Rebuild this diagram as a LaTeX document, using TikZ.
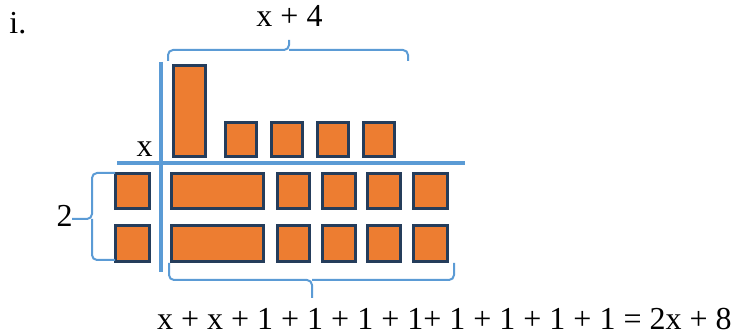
\documentclass[tikz,border=0pt]{standalone}
\usepackage{fontspec}
\setmainfont{Liberation Serif}
\definecolor{tileorange}{HTML}{ED7D31}
\definecolor{tileedge}{HTML}{253D5B}
\definecolor{axisblue}{HTML}{5B9BD5}
\newcommand\mktile[5]{\node[tile, minimum width={(#4-#2-3)*0.5pt}, minimum height={(#5-#3-3)*0.5pt}] (#1) at ({(#2+#4)/2},{(#3+#5)/2}) {};}
\begin{document}
\begin{tikzpicture}[x=0.5pt,y=-0.5pt,
  tile/.style={draw=tileedge, fill=tileorange, line width=1.5pt, inner sep=0pt, outer sep=0pt, rectangle},
  axisline/.style={draw=axisblue, line width=1.75pt},
  bracket/.style={draw=axisblue, line width=1pt, rounded corners=2.5pt},
  lbl/.style={font=\fontsize{16}{19}\selectfont, inner sep=0pt, anchor=base}]
\useasboundingbox (0,0) rectangle (734,336);
% labels
\node[lbl, anchor=base west] (roman) at (9,34) {i.};
\node[lbl] (top) at (289.5,27) {x + 4};
\node[lbl] (xl) at (144.5,157) {x};
\node[lbl] (two) at (64.5,227) {2};
\node[lbl, anchor=base east] (eq) at (732,330) {x + x + 1 + 1 + 1 + 1+ 1 + 1 + 1 + 1 = 2x + 8};
% axes
\coordinate (vt) at (161,62); \coordinate (vb) at (161,272);
\coordinate (hl) at (117,163); \coordinate (hr) at (465,163);
\draw[axisline] (vt) -- (vb);
\draw[axisline] (hl) -- (hr);
% top row
\mktile{t0}{172}{64}{207}{158}
\mktile{t1}{224}{121}{258}{158}
\mktile{t2}{270}{121}{304}{158}
\mktile{t3}{316}{121}{350}{158}
\mktile{t4}{362}{121}{396}{158}
% row 1
\mktile{a0}{114}{172}{151}{210}
\mktile{a1}{170}{172}{265}{210}
\mktile{a2}{276}{172}{311}{210}
\mktile{a3}{321}{172}{357}{210}
\mktile{a4}{366}{172}{402}{210}
\mktile{a5}{412}{172}{449}{210}
% row 2
\mktile{b0}{114}{224}{151}{263}
\mktile{b1}{170}{224}{265}{263}
\mktile{b2}{276}{224}{311}{263}
\mktile{b3}{321}{224}{357}{263}
\mktile{b4}{366}{224}{402}{263}
\mktile{b5}{412}{224}{449}{263}
% top brace
\draw[bracket] (168,61) -- (168,50) -- (289,50) -- (289,40);
\draw[bracket] (408,61) -- (408,50) -- (289,50);
% left brace
\draw[bracket] (115,173) -- (92,173) -- (92,219) -- (72,219);
\draw[bracket] (115,260) -- (92,260) -- (92,219);
% bottom brace
\draw[bracket] (169,263) -- (169,280) -- (312,280) -- (312,298);
\draw[bracket] (454,263) -- (454,280) -- (312,280);
\end{tikzpicture}
\end{document}
